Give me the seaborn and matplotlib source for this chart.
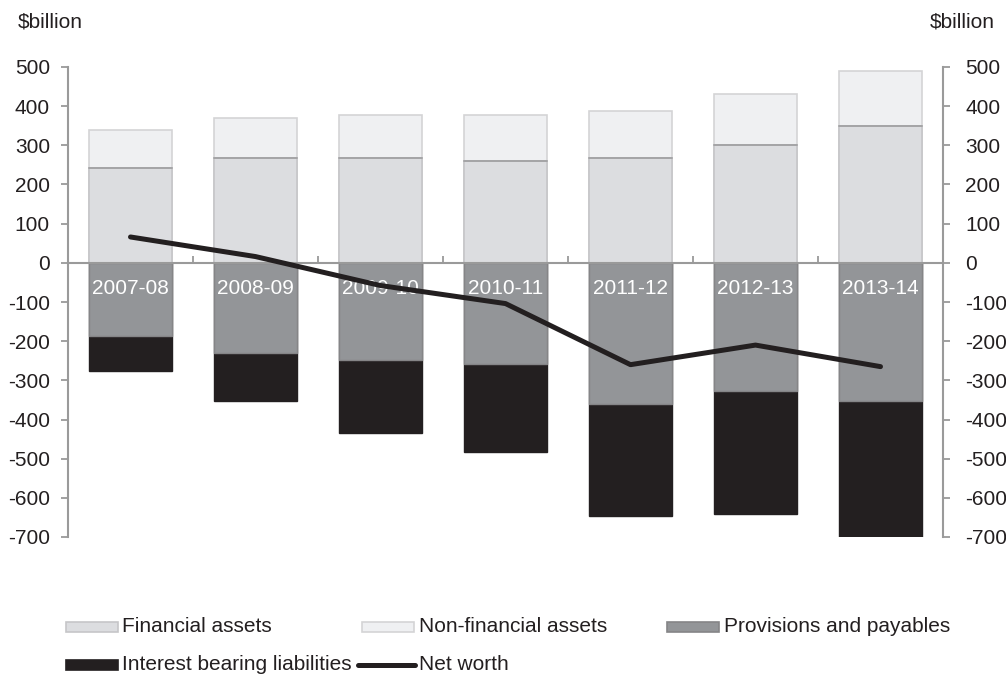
import numpy as np
import pandas as pd
import matplotlib
matplotlib.use("Agg")
import matplotlib.pyplot as plt
import matplotlib.patches as mpatches
from matplotlib.lines import Line2D
import seaborn as sns

# Balance sheet components, $billion
years = ["2007-08", "2008-09", "2009-10", "2010-11", "2011-12", "2012-13", "2013-14"]
financial_assets = [242, 267, 267, 261, 267, 300, 349]
non_financial_assets = [97, 102, 110, 116, 120, 131, 141]
provisions_payables = [-187, -231, -248, -259, -360, -326, -354]
interest_bearing = [-88, -122, -187, -224, -287, -316, -401]
net_worth = [66, 16, -58, -104, -260, -210, -265]
y_ticks = [500, 400, 300, 200, 100, 0, -100, -200, -300, -400, -500, -600, -700]

sns.set_theme(style="white")
plt.rcParams["font.family"] = ["Liberation Sans", "DejaVu Sans"]

C_FIN = "#dcdde0"
C_NONFIN = "#eff0f2"
C_PROV = "#939598"
C_IBL = "#231f20"
C_AXIS = "#9a9a9a"
C_TEXT = "#231f20"
FS = 15

df = pd.DataFrame({
    "year": years,
    "fin": financial_assets,
    "nonfin": non_financial_assets,
    "prov": provisions_payables,
    "ibl": interest_bearing,
    "nw": net_worth,
})
df["assets_total"] = df["fin"] + df["nonfin"]
df["liab_total"] = df["prov"] + df["ibl"]

fig = plt.figure(figsize=(10.06, 6.76), dpi=100)
ax = fig.add_axes([68 / 1006, 1 - 537 / 676, (943 - 68) / 1006, (537 - 67) / 676])

bw = 0.67
# Stacked bars: draw the full stack first, then the inner segment over it
sns.barplot(data=df, x="year", y="assets_total", color=C_NONFIN, width=bw,
            edgecolor="#d4d4d6", linewidth=1.2, saturation=1, ax=ax, zorder=2)
sns.barplot(data=df, x="year", y="fin", color=C_FIN, width=bw,
            edgecolor="#a8a8aa", linewidth=1.2, saturation=1, ax=ax, zorder=3)
sns.barplot(data=df, x="year", y="liab_total", color=C_IBL, width=bw,
            edgecolor=C_IBL, linewidth=1.0, saturation=1, ax=ax, zorder=2)
sns.barplot(data=df, x="year", y="prov", color=C_PROV, width=bw,
            edgecolor="#858587", linewidth=1.0, saturation=1, ax=ax, zorder=3)
# Side edges of the financial bars are lighter than the divider line
for p in ax.patches[7:14]:
    p.set_edgecolor("#c6c6c8")
    x0 = p.get_x()
    h = p.get_height()
    ax.plot([x0, x0 + p.get_width()], [h, h], color="#a4a4a6", lw=1.4, zorder=4)

for i, yr in enumerate(years):
    ax.text(i, -66, yr, color="white", fontsize=FS, ha="center", va="center", zorder=5)

x_pos = np.arange(len(years))
sns.lineplot(x=x_pos, y=df["nw"].values, color=C_IBL, linewidth=3.6,
             ax=ax, zorder=6, solid_capstyle="round", legend=False)

ax.set_xlim(-0.5, len(years) - 0.5)
ax.set_ylim(-700, 500)
ax.set_xlabel("")
ax.set_ylabel("")

# Category axis drawn along zero with small ticks between categories
ax.spines["bottom"].set_position(("data", 0))
ax.spines["bottom"].set_color(C_AXIS)
ax.spines["bottom"].set_linewidth(1.5)
ax.spines["bottom"].set_zorder(5)
ax.spines["top"].set_visible(False)
ax.spines["right"].set_visible(False)
ax.spines["left"].set_color(C_AXIS)
ax.spines["left"].set_linewidth(1.5)
ax.set_xticks(np.arange(0.5, len(years) - 1, 1.0))
ax.set_xticklabels([])
ax.tick_params(axis="x", direction="in", length=5, width=1.3, color=C_AXIS, bottom=True)

ax.set_yticks(y_ticks)
ax.set_yticklabels([str(v) for v in y_ticks])
ax.tick_params(axis="y", direction="out", length=5, width=1.3, color=C_AXIS,
               labelsize=FS, labelcolor=C_TEXT, pad=8, left=True)

ax2 = ax.twinx()
ax2.set_ylim(ax.get_ylim())
ax2.set_yticks(y_ticks)
ax2.set_yticklabels([str(v) for v in y_ticks])
for s in ["top", "left", "bottom"]:
    ax2.spines[s].set_visible(False)
ax2.spines["right"].set_color(C_AXIS)
ax2.spines["right"].set_linewidth(1.5)
ax2.tick_params(axis="y", direction="out", length=5, width=1.3, color=C_AXIS,
                labelsize=FS, labelcolor=C_TEXT, pad=11, right=True)
ax2.grid(False)
ax.grid(False)

fig.text(18 / 1006, 1 - 22 / 676, "$billion", fontsize=15, color=C_TEXT, va="center", ha="left")
fig.text(995 / 1006, 1 - 22 / 676, "$billion", fontsize=15, color=C_TEXT, va="center", ha="right")

# Legend keys and labels
W, H = 1006, 676
def key_patch(x0, x1, yc, face, edge):
    fig.patches.append(mpatches.Rectangle((x0 / W, 1 - (yc + 5) / H), (x1 - x0) / W, 10 / H,
                                          facecolor=face, edgecolor=edge, linewidth=1.2,
                                          transform=fig.transFigure, figure=fig))

def key_text(x, yc, s):
    fig.text(x / W, 1 - yc / H, s, fontsize=FS, color=C_TEXT, va="center", ha="left")

r1, r2 = 627, 665
key_patch(66, 118, r1, C_FIN, "#c6c6c8")
key_text(122, r1, "Financial assets")
key_patch(362, 414, r1, C_NONFIN, "#d4d4d6")
key_text(419, r1, "Non-financial assets")
key_patch(667, 719, r1, C_PROV, "#858587")
key_text(724, r1, "Provisions and payables")
key_patch(66, 118, r2, C_IBL, C_IBL)
key_text(122, r2, "Interest bearing liabilities")
fig.lines.append(Line2D([358 / W, 415 / W], [1 - r2 / H, 1 - r2 / H], color=C_IBL, lw=3.6,
                        solid_capstyle="round", transform=fig.transFigure, figure=fig))
key_text(419, r2, "Net worth")

fig.savefig("out.png", dpi=100, facecolor="white")
